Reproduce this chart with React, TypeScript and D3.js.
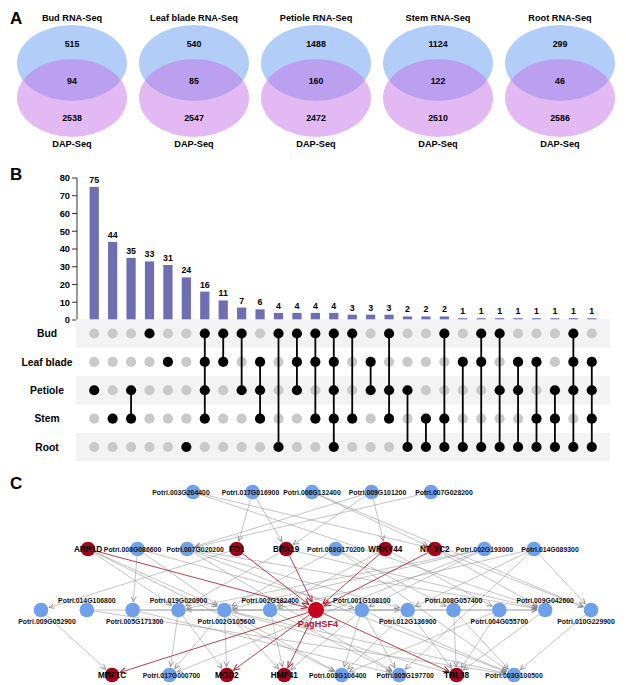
import * as React from "react";
import * as d3 from "d3";

// ---- Panel A data
const tissues = ["Bud", "Leaf blade", "Petiole", "Stem", "Root"];
const rnaOnly = [515, 540, 1488, 1124, 299];
const shared = [94, 85, 160, 122, 46];
const dapOnly = [2538, 2547, 2472, 2510, 2586];

// ---- Panel B data (UpSet)
const tissueCodes = ["B", "L", "P", "S", "R"];
const intersectionCounts = [75, 44, 35, 33, 31, 24, 16, 11, 7, 6, 4, 4, 4, 4, 3, 3, 3, 2, 2, 2, 1, 1, 1, 1, 1, 1, 1, 1];
const intersectionMembers = [
    "P", "S", "PS", "B", "L", "R", "BLPS", "BL", "BP", "LPS", "BR", "BLP", "BLS", "BLPSR",
    "BS", "LP", "BPS", "PR", "SR", "BSR", "LR", "BLR", "BPR", "LPR", "LSR", "PSR", "BLPR", "LPSR"
];

// ---- Panel C data (network)
const layerTop = ["Potri.003G204400", "Potri.017G016900", "Potri.006G132400", "Potri.009G101200", "Potri.007G028200"];
const layerUpper = ["ARR1D", "Potri.008G086600", "Potri.007G020200", "FD1", "BBX19", "Potri.003G170200", "WRKY44", "NF-YC2", "Potri.002G193000", "Potri.014G089300"];
const layerMiddle = ["Potri.009G052900", "Potri.014G106800", "Potri.005G171300", "Potri.019G020900", "Potri.002G105600", "Potri.002G182400", "PagHSF4", "Potri.001G108100", "Potri.012G136900", "Potri.008G057400", "Potri.004G055700", "Potri.009G042600", "Potri.010G229900"];
const layerBottom = ["MBF1C", "Potri.017G000700", "MOD2", "HMP41", "Potri.003G106400", "Potri.005G197700", "TBL38", "Potri.003G100500"];
const redNodes = ["ARR1D", "FD1", "BBX19", "WRKY44", "NF-YC2", "PagHSF4", "MBF1C", "MOD2", "HMP41", "TBL38"];
const edgeList: [string, string][] = [
    ["Potri.003G204400", "NF-YC2"], ["Potri.003G204400", "Potri.009G042600"],
    ["Potri.017G016900", "FD1"], ["Potri.017G016900", "BBX19"],
    ["Potri.006G132400", "NF-YC2"], ["Potri.006G132400", "Potri.010G229900"],
    ["Potri.009G101200", "WRKY44"], ["Potri.009G101200", "Potri.007G020200"], ["Potri.009G101200", "BBX19"],
    ["Potri.007G028200", "Potri.007G020200"],
    ["ARR1D", "PagHSF4"], ["ARR1D", "Potri.019G020900"], ["ARR1D", "Potri.002G105600"], ["ARR1D", "Potri.003G106400"],
    ["Potri.008G086600", "Potri.005G171300"], ["Potri.008G086600", "Potri.001G108100"], ["Potri.008G086600", "Potri.002G105600"],
    ["Potri.007G020200", "Potri.012G136900"], ["Potri.007G020200", "Potri.009G042600"], ["Potri.007G020200", "Potri.003G100500"], ["Potri.007G020200", "Potri.005G197700"],
    ["FD1", "PagHSF4"], ["FD1", "Potri.009G052900"],
    ["BBX19", "PagHSF4"], ["BBX19", "Potri.009G042600"], ["BBX19", "Potri.019G020900"],
    ["Potri.003G170200", "Potri.002G105600"], ["Potri.003G170200", "Potri.008G057400"], ["Potri.003G170200", "Potri.003G100500"],
    ["WRKY44", "PagHSF4"], ["WRKY44", "Potri.002G182400"], ["WRKY44", "Potri.004G055700"],
    ["NF-YC2", "PagHSF4"], ["NF-YC2", "Potri.009G042600"], ["NF-YC2", "Potri.010G229900"],
    ["Potri.002G193000", "Potri.019G020900"], ["Potri.002G193000", "Potri.002G105600"], ["Potri.002G193000", "Potri.001G108100"], ["Potri.002G193000", "Potri.017G000700"],
    ["Potri.014G089300", "Potri.002G182400"], ["Potri.014G089300", "Potri.012G136900"], ["Potri.014G089300", "Potri.010G229900"], ["Potri.014G089300", "Potri.005G197700"],
    ["Potri.002G182400", "Potri.002G105600"], ["Potri.002G105600", "Potri.019G020900"], ["Potri.001G108100", "Potri.012G136900"],
    ["Potri.014G106800", "Potri.009G042600"], ["Potri.005G171300", "Potri.009G042600"],
    ["Potri.009G052900", "MBF1C"], ["Potri.014G106800", "Potri.003G100500"], ["Potri.005G171300", "Potri.005G197700"],
    ["Potri.019G020900", "Potri.017G000700"], ["Potri.019G020900", "MOD2"],
    ["Potri.002G105600", "Potri.017G000700"], ["Potri.002G105600", "MOD2"], ["Potri.002G105600", "HMP41"], ["Potri.002G105600", "Potri.003G106400"], ["Potri.002G105600", "TBL38"], ["Potri.002G105600", "Potri.003G100500"],
    ["Potri.002G182400", "HMP41"], ["Potri.002G182400", "Potri.005G197700"],
    ["PagHSF4", "MBF1C"], ["PagHSF4", "MOD2"], ["PagHSF4", "HMP41"], ["PagHSF4", "TBL38"],
    ["Potri.001G108100", "Potri.003G106400"], ["Potri.001G108100", "Potri.005G197700"], ["Potri.001G108100", "HMP41"], ["Potri.001G108100", "Potri.003G100500"],
    ["Potri.012G136900", "TBL38"], ["Potri.012G136900", "Potri.003G106400"],
    ["Potri.008G057400", "TBL38"], ["Potri.008G057400", "Potri.003G100500"],
    ["Potri.004G055700", "Potri.003G106400"], ["Potri.004G055700", "TBL38"],
    ["Potri.009G042600", "TBL38"], ["Potri.010G229900", "Potri.003G100500"]
];

const FONT = "'Liberation Sans', Arial, sans-serif";

// small horizontal nudges so neighbouring labels don't collide (as in the figure)
const labelShift: Record<string, number> = {
    "Potri.003G204400": -12, "Potri.017G016900": -2, "Potri.009G101200": 6, "Potri.007G028200": 13,
    "Potri.008G086600": -5, "Potri.007G020200": 8, "Potri.014G089300": 16,
    "Potri.009G052900": 6, "Potri.010G229900": -5, "Potri.005G171300": 2, "Potri.002G105600": 2,
    "Potri.017G000700": 2, "Potri.003G106400": -4, "Potri.005G197700": 6
};

function PanelA() {
    const cx = d3.scalePoint<string>().domain(tissues).range([72, 560]);
    return (
        <g fontFamily={FONT} fontWeight="bold" textAnchor="middle">
            <text x={10} y={24} fontSize={17} textAnchor="start">A</text>
            {tissues.map((t, i) => {
                const x = cx(t) as number;
                return (
                    <g key={t}>
                        <ellipse cx={x} cy={63} rx={55} ry={38} fill="#b1cdf8" />
                        <ellipse cx={x} cy={98} rx={55} ry={39} fill="#c773e7" fillOpacity={0.5} />
                        <text x={x} y={21} fontSize={9.2}>{t} RNA-Seq</text>
                        <text x={x} y={47} fontSize={8.8}>{rnaOnly[i]}</text>
                        <text x={x} y={84} fontSize={8.8}>{shared[i]}</text>
                        <text x={x} y={121} fontSize={8.8}>{dapOnly[i]}</text>
                        <text x={x} y={147} fontSize={9.2}>DAP-Seq</text>
                    </g>
                );
            })}
        </g>
    );
}

function PanelB() {
    const cols = intersectionCounts.map((_, i) => i);
    const x = d3.scaleBand<number>().domain(cols).range([85, 601]).paddingInner(0.5).paddingOuter(0.25);
    const y = d3.scaleLinear().domain([0, 80]).range([320, 178]);
    const row = d3.scalePoint<string>().domain(tissueCodes).range([333.5, 447]);
    const band = 28.4;
    return (
        <g fontFamily={FONT} fontWeight="bold">
            <text x={10} y={180} fontSize={17}>B</text>
            {/* axis */}
            <line x1={77} x2={77} y1={y(80)} y2={y(0)} stroke="#000" strokeWidth={0.8} />
            {y.ticks(8).map(t => (
                <g key={t}>
                    <line x1={72} x2={77} y1={y(t)} y2={y(t)} stroke="#000" strokeWidth={0.8} />
                    <text x={70} y={y(t) + 3.3} fontSize={9.3} textAnchor="end">{t}</text>
                </g>
            ))}
            {/* bars */}
            {intersectionCounts.map((v, i) => (
                <g key={i}>
                    <rect x={x(i)} y={y(v)} width={x.bandwidth()} height={y(0) - y(v)} fill="#6e6eb2" />
                    <text x={(x(i) as number) + x.bandwidth() / 2} y={y(v) - 4} fontSize={8.8} textAnchor="middle">{v}</text>
                </g>
            ))}
            {/* matrix */}
            {tissueCodes.map((c, r) => (
                <g key={c}>
                    {r % 2 === 0 && <rect x={76} y={(row(c) as number) - band / 2} width={534} height={band} fill="#f3f3f3" />}
                    <text x={47} y={(row(c) as number) + 3.7} fontSize={10.3} textAnchor="middle">{tissues[r]}</text>
                </g>
            ))}
            {intersectionMembers.map((m, i) => {
                const cx = (x(i) as number) + x.bandwidth() / 2;
                const active = tissueCodes.filter(c => m.includes(c)).map(c => row(c) as number);
                return (
                    <g key={i}>
                        {tissueCodes.map(c => (
                            <circle key={c} cx={cx} cy={row(c)} r={5.1} fill={m.includes(c) ? "#000" : "#c9c9c9"} />
                        ))}
                        {active.length > 1 && (
                            <line x1={cx} x2={cx} y1={d3.min(active)} y2={d3.max(active)} stroke="#000" strokeWidth={1.8} />
                        )}
                    </g>
                );
            })}
        </g>
    );
}

function PanelC() {
    const layers = [layerTop, layerUpper, layerMiddle, layerBottom];
    const ranges: [number, number][] = [[193, 431], [88, 534], [41, 591], [112, 514]];
    const ly = d3.scaleLinear().domain([0, 1, 2, 3]).range([492, 549, 610, 675]);
    type N = { id: string; x: number; y: number; layer: number; idx: number; red: boolean; r: number };
    const nodes: N[] = [];
    layers.forEach((names, li) => {
        const sx = d3.scalePoint<string>().domain(names).range(ranges[li]);
        names.forEach((n, idx) => {
            nodes.push({ id: n, x: sx(n) as number, y: ly(li), layer: li, idx, red: redNodes.includes(n), r: n === "PagHSF4" ? 8 : 7.3 });
        });
    });
    const byId = new Map(nodes.map(n => [n.id, n]));
    const edges = edgeList.map(([s, t]) => {
        const a = byId.get(s)!, b = byId.get(t)!;
        const dx = b.x - a.x, dy = b.y - a.y, len = Math.hypot(dx, dy);
        const red = a.red && b.red;
        return {
            key: s + t, red,
            x1: a.x + dx / len * a.r, y1: a.y + dy / len * a.r,
            x2: b.x - dx / len * (b.r + 1), y2: b.y - dy / len * (b.r + 1)
        };
    });
    const labelY = (n: N) => {
        if (n.layer === 2) return n.idx % 2 === 0 ? n.y + 14 : n.y - 7.5;
        return n.y + 2.6;
    };
    return (
        <g fontFamily={FONT} fontWeight="bold">
            <defs>
                <marker id="arrGray" viewBox="0 0 8 8" refX={7.5} refY={4} markerWidth={6} markerHeight={6} orient="auto" markerUnits="userSpaceOnUse">
                    <path d="M0.5,0.8 L7.5,4 L0.5,7.2" fill="none" stroke="#7d7d7d" strokeWidth={1} />
                </marker>
                <marker id="arrRed" viewBox="0 0 8 8" refX={7.5} refY={4} markerWidth={7} markerHeight={7} orient="auto" markerUnits="userSpaceOnUse">
                    <path d="M0.5,0.8 L7.5,4 L0.5,7.2" fill="none" stroke="#a3142a" strokeWidth={1.1} />
                </marker>
            </defs>
            <text x={10} y={489} fontSize={17}>C</text>
            {edges.filter(e => !e.red).map(e => (
                <line key={e.key} x1={e.x1} y1={e.y1} x2={e.x2} y2={e.y2} stroke="#939393" strokeWidth={0.55} markerEnd="url(#arrGray)" />
            ))}
            {edges.filter(e => e.red).map(e => (
                <line key={e.key} x1={e.x1} y1={e.y1} x2={e.x2} y2={e.y2} stroke="#a3142a" strokeWidth={0.8} markerEnd="url(#arrRed)" />
            ))}
            {nodes.map(n => (
                <circle key={n.id} cx={n.x} cy={n.y} r={n.r} fill={n.id === "PagHSF4" ? "#c8001e" : n.red ? "#a4001c" : "#6fa0e9"} />
            ))}
            {nodes.filter(n => !n.red).map(n => (
                <text key={"l" + n.id} x={n.x + (labelShift[n.id] || 0)} y={labelY(n)} fontSize={6.9} textAnchor="middle" fill="#111">{n.id}</text>
            ))}
            {nodes.filter(n => n.red).map(n => n.id === "PagHSF4" ? (
                <text key={"l" + n.id} x={n.x + 2} y={n.y + 17} fontSize={9.2} textAnchor="middle" fill="#b0122c">{n.id}</text>
            ) : (
                <text key={"l" + n.id} x={n.x} y={n.y + 3} fontSize={8.2} textAnchor="middle" fill="#000">{n.id}</text>
            ))}
        </g>
    );
}

export default function App() {
    return (
        <svg width={626} height={685} viewBox="0 0 626 685" style={{ position: "absolute", left: 0, top: 0, background: "#fff" }}>
            <rect width={626} height={685} fill="#fff" />
            <PanelA />
            <PanelB />
            <PanelC />
        </svg>
    );
}
